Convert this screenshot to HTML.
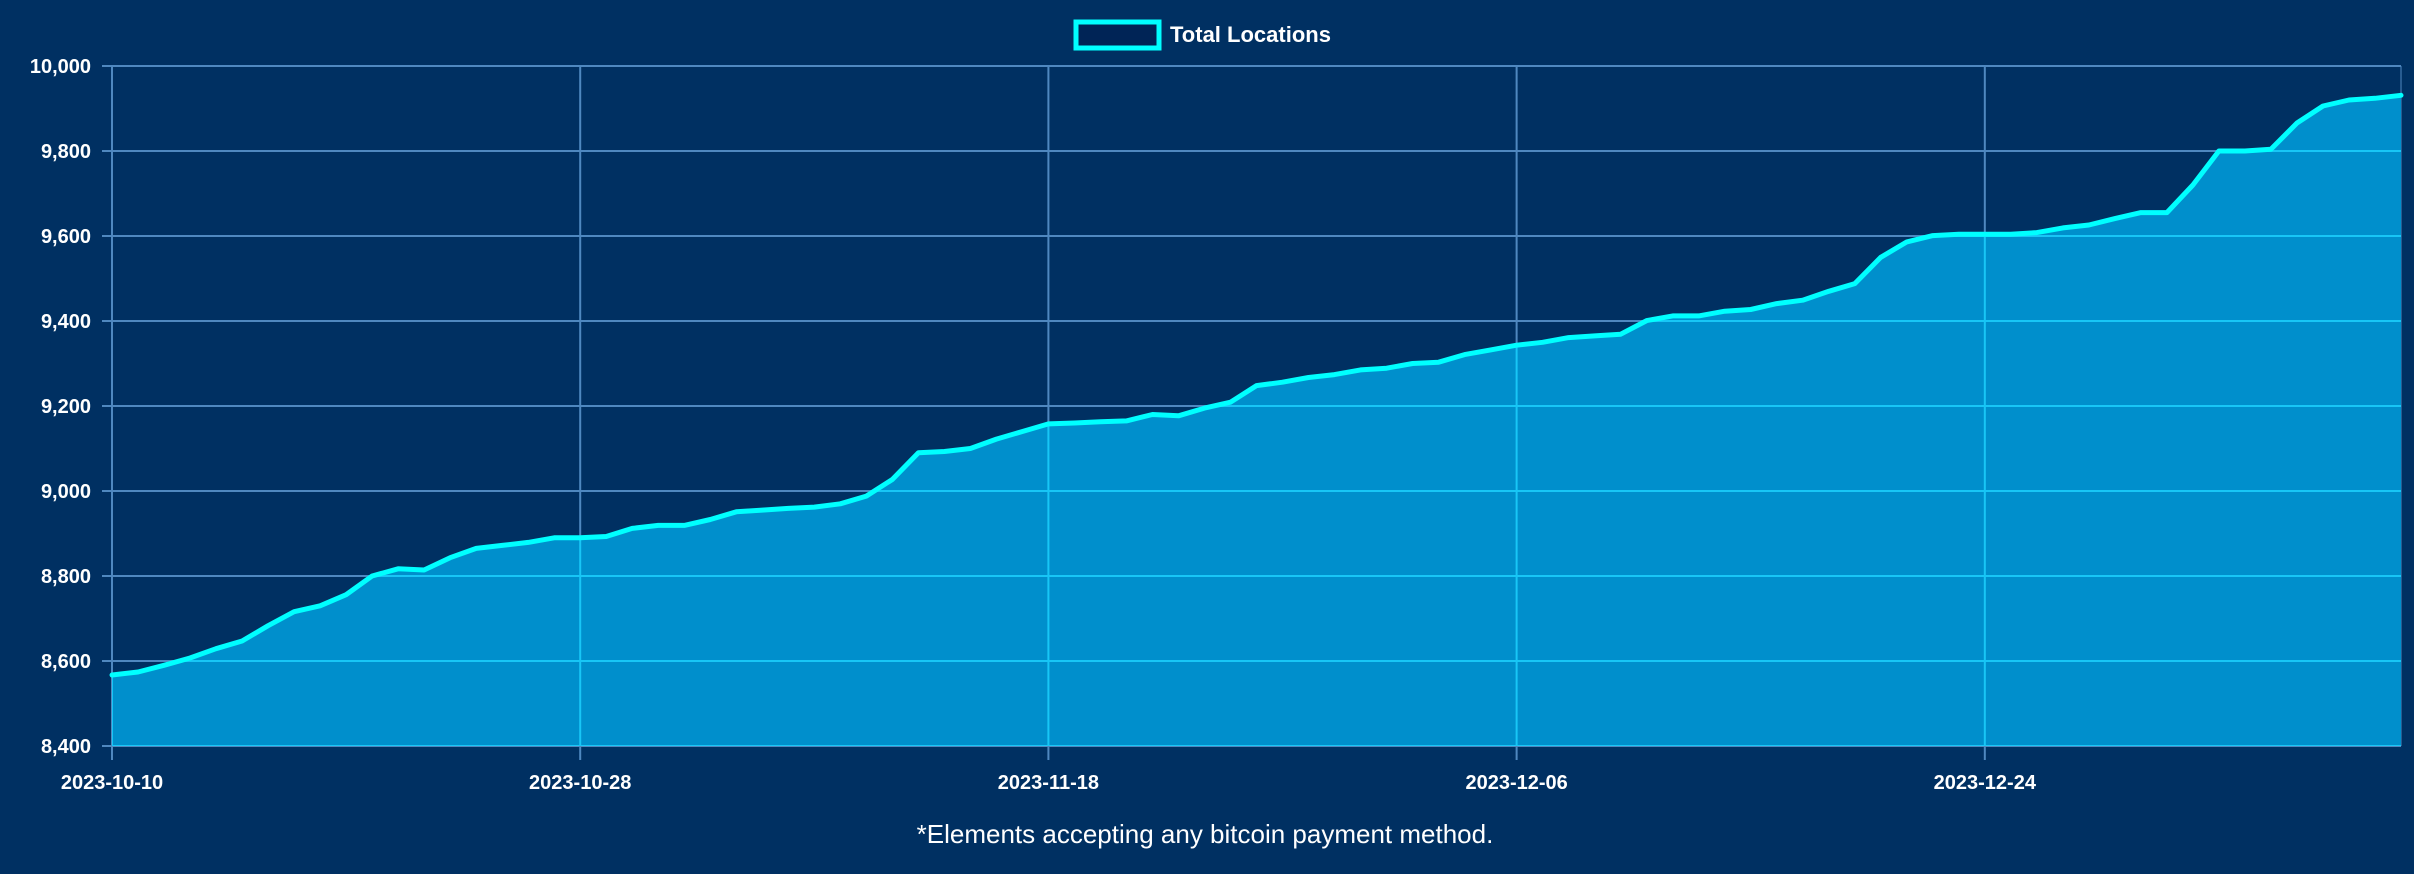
<!DOCTYPE html>
<html><head><meta charset="utf-8"><style>
html,body{margin:0;padding:0;background:#003062;}
svg{display:block;font-family:"Liberation Sans",sans-serif;}
</style></head><body>
<svg id="chart" width="2414" height="874" viewBox="0 0 2414 874" xmlns="http://www.w3.org/2000/svg">
<rect width="2414" height="874" fill="#003062"/>
<g id="legend">
<rect x="1076" y="22" width="83" height="26" fill="#002456" stroke="#00ffff" stroke-width="5"/>
<text x="1170" y="42" fill="#ffffff" font-size="22" font-weight="bold">Total Locations</text>
</g>
<g id="gridBack"></g>
<g id="areaG"></g>
<g id="gridFront"></g>
<g id="lineG"></g>
<g id="axes"></g>
<text x="1205" y="843" fill="#ffffff" font-size="26" text-anchor="middle">*Elements accepting any bitcoin payment method.</text>
</svg>
<script>
const values = [8567,8574,8590,8607,8629,8647,8683,8716,8730,8756,
8800,8817,8814,8843,8865,8872,8879,8890,8890,8893,
8912,8919,8919,8933,8951,8955,8959,8962,8970,8988,
9027,9090,9093,9100,9122,9140,9158,9160,9163,9165,
9180,9177,9195,9209,9248,9256,9267,9274,9285,9289,
9300,9303,9321,9332,9343,9350,9361,9365,9369,9401,
9412,9412,9423,9427,9441,9449,9470,9488,9550,9586,
9601,9604,9604,9604,9608,9619,9626,9641,9655,9655,
9720,9800,9800,9804,9866,9906,9920,9924,9931];
const xTickLabels = ["2023-10-10","2023-10-28","2023-11-18","2023-12-06","2023-12-24"];
const xTickIndex = [0,18,36,54,72];
const yTicks = [8400,8600,8800,9000,9200,9400,9600,9800,10000];

const NS="http://www.w3.org/2000/svg";
const L=112,R=2401,T=66,B=746,yMin=8400,yMax=10000;
const xs=i=>L+(R-L)*i/(values.length-1);
const ys=v=>B-(B-T)*(v-yMin)/(yMax-yMin);
function mk(tag,attrs,parent){const e=document.createElementNS(NS,tag);for(const k in attrs)e.setAttribute(k,attrs[k]);parent.appendChild(e);return e;}
const gb=document.getElementById('gridBack'),gf=document.getElementById('gridFront'),ag=document.getElementById('areaG'),lg=document.getElementById('lineG'),ax=document.getElementById('axes');
yTicks.forEach(v=>{
  const y=ys(v);
  const l=mk('line',{x1:L-10,x2:R,y1:y,y2:y,stroke:'#4f88c0','stroke-width':2},gb);
  
  
  const f=mk('line',{x1:L,x2:R,y1:y,y2:y,stroke:'#18c6f6','stroke-width':2,'clip-path':'url(#areaClip)'},gf);
  
  
  const t=mk('text',{x:L-21,y:y+7,fill:'#ffffff','font-size':20,'font-weight':'bold','text-anchor':'end'},ax);
  t.textContent=v.toLocaleString('en-US');
  
  
});
xTickIndex.forEach((idx,k)=>{
  const x=xs(idx);
  const l=mk('line',{x1:x,x2:x,y1:T,y2:B+14,stroke:'#4f88c0','stroke-width':2},gb);
  
  
  const f=mk('line',{x1:x,x2:x,y1:T,y2:B,stroke:'#18c6f6','stroke-width':2,'clip-path':'url(#areaClip)'},gf);
  
  
  const t=mk('text',{x:x,y:789,fill:'#ffffff','font-size':20,'font-weight':'bold','text-anchor':'middle'},ax);
  t.textContent=xTickLabels[k];
  
  
});
// right plot edge line
const re=mk('line',{x1:R,x2:R,y1:T,y2:B,stroke:'#4f88c0','stroke-width':1},gb);


let pts=values.map((v,i)=>xs(i).toFixed(1)+','+ys(v).toFixed(1));
const areaD='M'+xs(0)+','+B+' L'+pts.join(' L')+' L'+xs(values.length-1)+','+B+' Z';
const defs=mk('defs',{},document.getElementById('chart'));
const cp=mk('clipPath',{id:'areaClip'},defs);
mk('path',{d:areaD},cp);
const area=mk('path',{d:areaD,fill:'#008fcc'},ag);


const line=mk('polyline',{points:pts.join(' '),fill:'none',stroke:'#00ffff','stroke-width':5,'stroke-linejoin':'round','stroke-linecap':'round'},lg);


</script>
</body></html>
